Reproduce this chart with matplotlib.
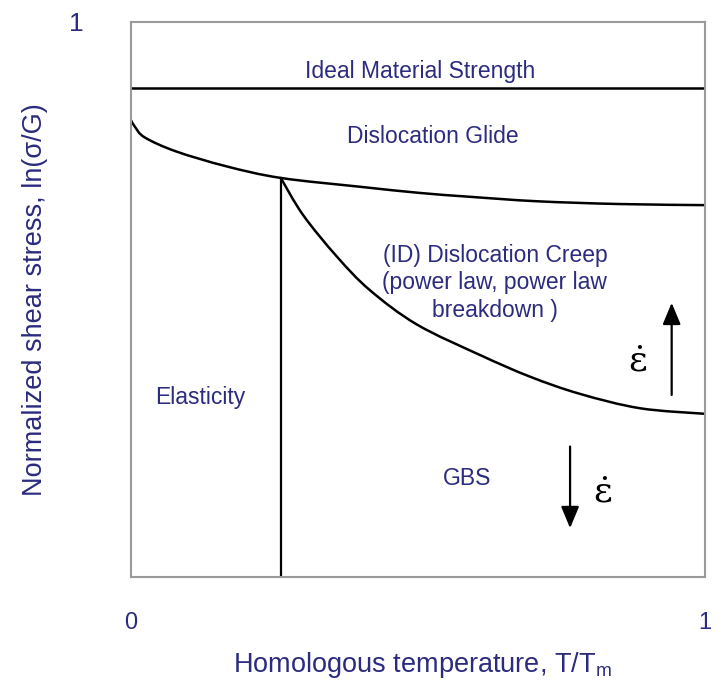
import numpy as np
import matplotlib
matplotlib.use("Agg")
import matplotlib.pyplot as plt
from matplotlib.path import Path
from matplotlib.patches import PathPatch

plt.rcParams['font.family'] = ['Liberation Sans', 'DejaVu Sans']
plt.rcParams['mathtext.fontset'] = 'custom'
plt.rcParams['mathtext.rm'] = 'Liberation Sans'
plt.rcParams['mathtext.it'] = 'Liberation Sans:italic'

navy = '#2b2b7f'

# deformation mechanism map boundaries (T/Tm vs normalized stress)
ideal_strength = 0.881

glide_x = [0.0, 0.007, 0.024, 0.078, 0.166, 0.261, 0.40, 0.503, 0.591, 0.707, 0.85, 1.0]
glide_y = [0.823, 0.811, 0.792, 0.767, 0.740, 0.719, 0.703, 0.692, 0.685, 0.677, 0.672, 0.670]

creep_x = [0.261, 0.300, 0.359, 0.416, 0.498, 0.608, 0.695, 0.782, 0.887, 1.0]
creep_y = [0.719, 0.652, 0.577, 0.517, 0.455, 0.400, 0.361, 0.330, 0.304, 0.294]

elastic_x = 0.261
elastic_top = 0.719


def smooth_curve(xs, ys):
    # Catmull-Rom spline through the points, drawn as cubic Bezier segments
    p = np.column_stack([xs, ys])
    n = len(p)
    verts = [p[0]]
    codes = [Path.MOVETO]
    for i in range(n - 1):
        p0 = p[i - 1] if i > 0 else p[i]
        p1, p2 = p[i], p[i + 1]
        p3 = p[i + 2] if i + 2 < n else p[i + 1]
        verts += [p1 + (p2 - p0) / 6, p2 - (p3 - p1) / 6, p2]
        codes += [Path.CURVE4] * 3
    return Path(verts, codes)


fig = plt.figure(figsize=(7.22, 6.85), dpi=100)
ax = fig.add_axes([0.1814, 0.1577, 0.7950, 0.8102])

ax.axhline(ideal_strength, color='black', lw=1.8)
ax.add_patch(PathPatch(smooth_curve(glide_x, glide_y), fill=False, ec='black', lw=1.8))
ax.add_patch(PathPatch(smooth_curve(creep_x, creep_y), fill=False, ec='black', lw=1.8))
ax.plot([elastic_x, elastic_x], [0, elastic_top], color='black', lw=1.6)

ax.set_xlim(0, 1)
ax.set_ylim(0, 1)
for s in ax.spines.values():
    s.set_color('#9a9a9a')
    s.set_linewidth(1.5)

ax.set_xticks([0, 1])
ax.set_xticklabels(['0', '1'])
ax.set_yticks([1])
ax.set_yticklabels(['1'])
ax.tick_params(axis='x', length=0, pad=25, labelsize=17, labelcolor=navy)
ax.tick_params(axis='y', length=0, pad=34, labelsize=19, labelcolor=navy)

# region names
txt = dict(color=navy, fontsize=16.5, ha='center', va='center')
ax.text(0.503, 0.910, 'Ideal Material Strength', **txt)
ax.text(0.526, 0.793, 'Dislocation Glide', **txt)
ax.text(0.634, 0.530, '(ID) Dislocation Creep\n(power law, power law\nbreakdown )',
        linespacing=1.25, **txt)
ax.text(0.120, 0.324, 'Elasticity', **txt)
ax.text(0.585, 0.177, 'GBS', **txt)

# strain-rate arrows
arr = dict(arrowstyle='-|>,head_length=0.6,head_width=0.25', color='black', lw=1.6,
           mutation_scale=22, shrinkA=0, shrinkB=0)
ax.annotate('', xy=(0.942, 0.494), xytext=(0.942, 0.328), arrowprops=arr)
ax.annotate('', xy=(0.765, 0.088), xytext=(0.765, 0.235), arrowprops=arr)
ax.text(0.882, 0.387, r'$\dot{\mathrm{\varepsilon}}$', fontsize=26, ha='center', va='center',
        math_fontfamily='dejavuserif')
ax.text(0.821, 0.151, r'$\dot{\mathrm{\varepsilon}}$', fontsize=26, ha='center', va='center',
        math_fontfamily='dejavuserif')

fig.text(35 / 722, 1 - 300 / 685, 'Normalized shear stress, ln(σ/G)', rotation=90,
         ha='center', va='center', color=navy, fontsize=19.5)
fig.text(422 / 722, 1 - 665 / 685, r'Homologous temperature, T/T$_{\mathrm{m}}$',
         ha='center', va='center', color=navy, fontsize=19.5)

fig.savefig('out.png', dpi=100)
